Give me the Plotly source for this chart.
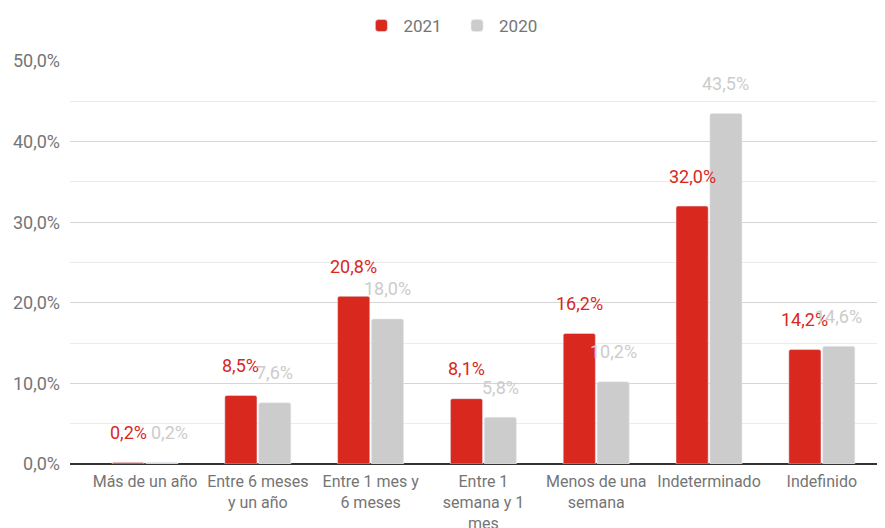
import plotly.graph_objects as go

categories = ["Más de un año", "Entre 6 meses<br>y un año", "Entre 1 mes y<br>6 meses",
              "Entre 1<br>semana y 1<br>mes", "Menos de una<br>semana", "Indeterminado", "Indefinido"]
values_2021 = [0.2, 8.5, 20.8, 8.1, 16.2, 32.0, 14.2]
values_2020 = [0.2, 7.6, 18.0, 5.8, 10.2, 43.5, 14.6]
y_ticks = [0, 10, 20, 30, 40, 50]

RED = "#d9281e"
GRAY = "#cccccc"
idx = list(range(len(categories)))


def fmt(v):
    return f"{v:.1f}".replace(".", ",") + "%"


fig = go.Figure()
fig.add_trace(go.Bar(x=idx, y=values_2021, name="2021  ", marker=dict(color=RED, cornerradius=2)))
fig.add_trace(go.Bar(x=idx, y=values_2020, name="2020", marker=dict(color=GRAY, cornerradius=2)))

for i in idx:
    fig.add_annotation(x=i - 0.15, y=values_2021[i], text=fmt(values_2021[i]), showarrow=False,
                       yshift=30, font=dict(color=RED, size=18, family="Roboto"))
    fig.add_annotation(x=i + 0.15, y=values_2020[i], text=fmt(values_2020[i]), showarrow=False,
                       yshift=30, xshift=(8 if values_2020[i] < 1 else 0),
                       font=dict(color=GRAY, size=18, family="Roboto"))

fig.update_layout(
    width=877, height=520,
    margin=dict(l=62, r=0, t=53, b=64, autoexpand=False),
    paper_bgcolor="white", plot_bgcolor="white",
    barmode="group", bargap=0.4, bargroupgap=0.05,
    font=dict(family="Roboto", color="#757575"),
    showlegend=True,
    legend=dict(orientation="h", x=0.505, xref="container", xanchor="center",
                y=1.0, yref="container", yanchor="top", itemwidth=34,
                font=dict(size=17, color="#757575"), traceorder="normal"),
    xaxis=dict(tickmode="array", tickvals=idx, ticktext=categories, range=[-0.665, 6.56],
               tickfont=dict(size=16, color="#757575"), showgrid=False, zeroline=False,
               showline=False, ticks="", automargin=False, ticklabelstandoff=6),
    yaxis=dict(range=[0, 50], tickmode="array", tickvals=y_ticks,
               ticktext=[fmt(t) for t in y_ticks], automargin=False, ticklabelstandoff=9,
               tickfont=dict(size=18, color="#757575"), gridcolor="#d6d6d6", gridwidth=1,
               zeroline=True, zerolinecolor="#333333", zerolinewidth=1.5,
               minor=dict(dtick=5, showgrid=True, gridcolor="#ebebeb", gridwidth=1)),
)

fig.write_html("out.html")
